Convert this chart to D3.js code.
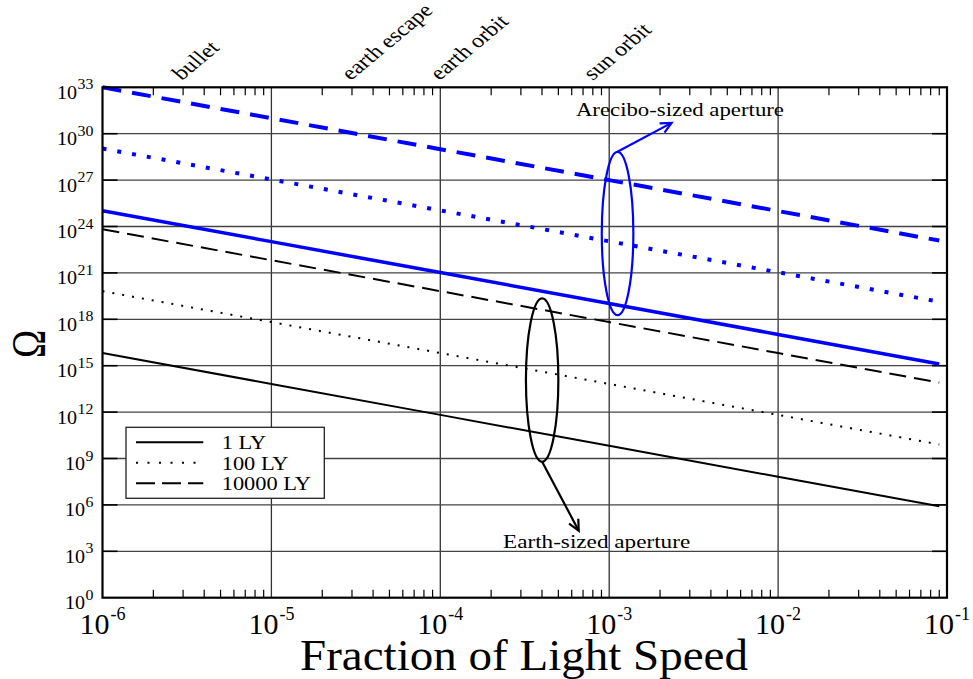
<!DOCTYPE html>
<html><head><meta charset="utf-8">
<script src="https://cdn.jsdelivr.net/npm/d3@7"></script>
<style>body{margin:0;background:#fff} svg{display:block}</style>
</head><body><svg id="c" width="973" height="679"></svg>
<script>
// ---------- data ----------
const speeds = [1e-6, 1e-5, 1e-4, 1e-3, 1e-2, 0.09];
const earth1LY     = [6.6e15, 6.6e13, 6.6e11, 6.6e9, 6.6e7, 8.1e5];
const earth100LY   = [6.6e19, 6.6e17, 6.6e15, 6.6e13, 6.6e11, 8.1e9];
const earth10000LY = [6.6e23, 6.6e21, 6.6e19, 6.6e17, 6.6e15, 8.1e13];
const arecibo1LY     = [1.05e25, 1.05e23, 1.05e21, 1.05e19, 1.05e17, 1.3e15];
const arecibo100LY   = [1.1e29, 1.1e27, 1.1e25, 1.1e23, 1.1e21, 1.36e19];
const arecibo10000LY = [1.0e33, 1.0e31, 1.0e29, 1.0e27, 1.0e25, 1.23e23];
const legendLabels = ["1 LY", "100 LY", "10000 LY"];
const yTickExponents = [0, 3, 6, 9, 12, 15, 18, 21, 24, 27, 30, 33];
const xTickExponents = [-6, -5, -4, -3, -2, -1];
const markerLabels = ["bullet", "earth escape", "earth orbit", "sun orbit"];
const markerSpeeds = [2.95e-6, 2.95e-5, 9.9e-5, 8.0e-4];
const annotationLabels = ["Arecibo-sized aperture", "Earth-sized aperture"];

// ---------- setup ----------
const W = 973, H = 679;
const L = 102.5, R = 947, T = 87.3, B = 597.7;
const F = "'Liberation Serif','Times New Roman',serif";
const BLUE = "#0000ff";
const svg = d3.select("#c");
svg.append("rect").attr("width", W).attr("height", H).attr("fill", "#fff");

const x = d3.scaleLog().domain([1e-6, 1e-1]).range([L, R]);
const y = d3.scaleLog().domain([1, 1e33]).range([B, T]);

// ---------- grid ----------
const g = svg.append("g");
xTickExponents.slice(1, -1).forEach(e => {
  g.append("line").attr("x1", x(10 ** e)).attr("x2", x(10 ** e)).attr("y1", T).attr("y2", B)
    .attr("stroke", "#333").attr("stroke-width", 1.3);
});
yTickExponents.slice(1, -1).forEach(e => {
  g.append("line").attr("x1", L).attr("x2", R).attr("y1", y(10 ** e)).attr("y2", y(10 ** e))
    .attr("stroke", "#444").attr("stroke-width", 1.3);
  [[L, L + 15], [R - 15, R]].forEach(([a, b]) =>
    g.append("line").attr("x1", a).attr("x2", b).attr("y1", y(10 ** e)).attr("y2", y(10 ** e))
      .attr("stroke", "#000").attr("stroke-width", 1.6));
});
for (let e = -6; e < -1; e++) {
  for (let m = 2; m <= 9; m++) {
    const xv = x(m * 10 ** e);
    g.append("line").attr("x1", xv).attr("x2", xv).attr("y1", T).attr("y2", T + 8)
      .attr("stroke", "#000").attr("stroke-width", 1.2);
    g.append("line").attr("x1", xv).attr("x2", xv).attr("y1", B).attr("y2", B - 8)
      .attr("stroke", "#000").attr("stroke-width", 1.2);
  }
}

// ---------- series ----------
const series = [
  { v: earth1LY, color: "#000", w: 2, dash: null },
  { v: earth100LY, color: "#000", w: 2, dash: "2 8" },
  { v: earth10000LY, color: "#000", w: 2, dash: "17 8" },
  { v: arecibo1LY, color: BLUE, w: 3.5, dash: null },
  { v: arecibo100LY, color: BLUE, w: 4, dash: "4 11" },
  { v: arecibo10000LY, color: BLUE, w: 4, dash: "19 11" }
];
const line = d3.line().x(d => x(d[0])).y(d => y(d[1]));
series.forEach(s => {
  svg.append("path").attr("d", line(speeds.map((sp, i) => [sp, s.v[i]])))
    .attr("fill", "none").attr("stroke", s.color).attr("stroke-width", s.w)
    .attr("stroke-dasharray", s.dash);
});

// ---------- annotations ----------
function ellipse(x0, x1, yTop, yBot, color) {
  const cx = (x(x0) + x(x1)) / 2, cy = (y(yTop) + y(yBot)) / 2;
  svg.append("ellipse").attr("cx", cx).attr("cy", cy)
    .attr("rx", (x(x1) - x(x0)) / 2).attr("ry", (y(yBot) - y(yTop)) / 2)
    .attr("fill", "none").attr("stroke", color).attr("stroke-width", 2.2);
}
function arrow(p0, p1, color) {
  const ax = x(p0[0]), ay = y(p0[1]), bx = x(p1[0]), by = y(p1[1]);
  svg.append("line").attr("x1", ax).attr("y1", ay).attr("x2", bx).attr("y2", by)
    .attr("stroke", color).attr("stroke-width", 2.2);
  const ang = Math.atan2(by - ay, bx - ax), len = 12, sp = 0.45;
  const pts = [[bx - len * Math.cos(ang - sp), by - len * Math.sin(ang - sp)], [bx, by],
               [bx - len * Math.cos(ang + sp), by - len * Math.sin(ang + sp)]];
  svg.append("path").attr("d", d3.line()(pts)).attr("fill", "none")
    .attr("stroke", color).attr("stroke-width", 2.2);
}
ellipse(10 ** -3.044, 10 ** -2.857, 10 ** 28.83, 10 ** 18.27, BLUE);
ellipse(10 ** -3.493, 10 ** -3.301, 10 ** 19.35, 10 ** 8.79, "#000");
arrow([10 ** -2.951, 10 ** 28.83], [2.34e-3, 10 ** 30.7], BLUE);
arrow([10 ** -3.397, 10 ** 8.79], [6.6e-4, 10 ** 4.33], "#000");

function stext(px, py, str, size, sx, anchor) {
  return svg.append("text").attr("transform", `translate(${px},${py}) scale(${sx},1)`)
    .attr("font-family", F).attr("font-size", size).attr("text-anchor", anchor || "start")
    .attr("fill", "#000").text(str);
}
stext(x(6.35e-4), y(10 ** 31.13), annotationLabels[0], 19, 1.2);
stext(x(2.35e-4), y(10 ** 3.21), annotationLabels[1], 19, 1.22);

// ---------- legend ----------
const lg = svg.append("g");
lg.append("rect").attr("x", 126).attr("y", 427.3).attr("width", 198.3).attr("height", 71)
  .attr("fill", "#fff").attr("stroke", "#222").attr("stroke-width", 1.3);
legendLabels.forEach((lab, i) => {
  const s = series[i], ly = 442.3 + i * 20.5;
  lg.append("line").attr("x1", 136).attr("x2", 203.3).attr("y1", ly).attr("y2", ly)
    .attr("stroke", "#000").attr("stroke-width", 2)
    .attr("stroke-dasharray", i === 1 ? "2 9.5" : (i === 2 ? "19 7" : null));
  stext(221.7, ly + 7, lab, 19, 1.18);
});

// ---------- frame ----------
svg.append("rect").attr("x", L).attr("y", T).attr("width", R - L).attr("height", B - T)
  .attr("fill", "none").attr("stroke", "#000").attr("stroke-width", 2.2);

// ---------- tick labels ----------
yTickExponents.forEach(e => {
  const t = svg.append("text").attr("transform", `translate(93.5,${y(10 ** e) + 11.5}) scale(1.06,1)`)
    .attr("font-family", F).attr("text-anchor", "end").attr("fill", "#000");
  t.append("tspan").attr("font-size", 19).text("10");
  t.append("tspan").attr("font-size", 15).attr("dx", 0.5).attr("dy", -9.5).text(e);
});
xTickExponents.forEach(e => {
  const t = svg.append("text").attr("transform", `translate(${x(10 ** e)},633.5)`)
    .attr("font-family", F).attr("text-anchor", "middle").attr("fill", "#000");
  t.append("tspan").attr("font-size", 30).text("10");
  t.append("tspan").attr("font-size", 18).attr("dx", 1).attr("dy", -14).text(e);
});

// marker labels (rotated)
markerLabels.forEach((lab, i) => {
  svg.append("text")
    .attr("transform", `translate(${x(markerSpeeds[i])},81) scale(1.2,1) rotate(-45)`)
    .attr("font-family", F).attr("font-size", 20).attr("fill", "#000").text(lab);
});

// axis titles
svg.append("text").attr("transform", "translate(524,670) scale(1.045,1)")
  .attr("font-family", F).attr("font-size", 45).attr("text-anchor", "middle")
  .attr("fill", "#000").text("Fraction of Light Speed");
svg.append("text").attr("transform", "translate(45,344) scale(1.25,1) rotate(-90)")
  .attr("font-family", F).attr("font-size", 38).attr("text-anchor", "middle")
  .attr("fill", "#000").text("Ω");
</script></body></html>
